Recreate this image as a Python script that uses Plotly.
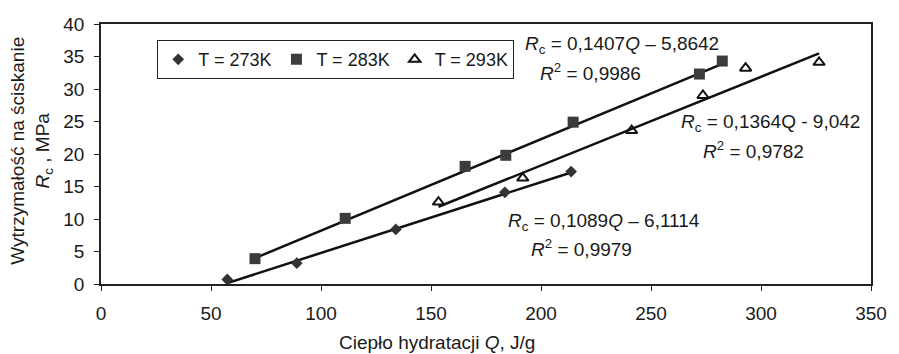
import plotly.graph_objects as go

# ---- data ----
q_273 = [57.4, 89.0, 134.0, 183.6, 213.7]
r_273 = [0.7, 3.2, 8.4, 14.1, 17.3]

q_283 = [70.0, 111.0, 165.5, 184.0, 214.6, 272.0, 282.4]
r_283 = [3.9, 10.1, 18.1, 19.8, 24.9, 32.3, 34.3]

q_293 = [153.4, 191.7, 241.2, 273.6, 293.0, 326.4]
r_293 = [12.6, 16.3, 23.6, 29.0, 33.2, 34.1]

series_names = ["T = 273K", "T = 283K", "T = 293K"]
# trendline coefficients (slope, intercept) as printed on the chart
slopes = [0.1089, 0.1407, 0.1364]
intercepts = [-6.1114, -5.8642, -9.042]

eq_texts = [
    "<i>R</i><sub>c</sub> = 0,1089<i>Q</i> – 6,1114",
    "<i>R</i><sub>c</sub> = 0,1407<i>Q</i> – 5,8642",
    "<i>R</i><sub>c</sub> = 0,1364Q - 9,042",
]
r2_texts = [
    "<i>R</i><sup>2</sup> = 0,9979",
    "<i>R</i><sup>2</sup> = 0,9986",
    "<i>R</i><sup>2</sup> = 0,9782",
]
eq_pos = [(228.7, 9.5), (236.8, 36.8), (304.5, 24.7)]
r2_pos = [(218.4, 5.5), (222.4, 32.6), (296.8, 20.6)]

x_ticks = [0, 50, 100, 150, 200, 250, 300, 350]
y_ticks = [0, 5, 10, 15, 20, 25, 30, 35, 40]

FONT = "Liberation Sans, Arial, sans-serif"
TXT = "#1a1a1a"
FS = 19

fig = go.Figure()

qs = [q_273, q_283, q_293]
rs = [r_273, r_283, r_293]
markers = [
    dict(symbol="diamond", size=9, color="#333333"),
    dict(symbol="square", size=11, color="#3c3c3c"),
    dict(symbol="triangle-up-open", size=10, color="#111111", line=dict(width=2, color="#111111")),
]

# trendlines
for q, a, b in zip(qs, slopes, intercepts):
    x0, x1 = min(q), max(q)
    fig.add_trace(go.Scatter(
        x=[x0, x1], y=[a * x0 + b, a * x1 + b], mode="lines",
        line=dict(color="#111111", width=2.5), showlegend=False, hoverinfo="skip"))

for q, r, name, m in zip(qs, rs, series_names, markers):
    fig.add_trace(go.Scatter(x=q, y=r, mode="markers", name=name, marker=m))

annotations = []
for t, (x, y) in zip(eq_texts, eq_pos):
    annotations.append(dict(x=x, y=y, xref="x", yref="y", text=t, showarrow=False,
                            font=dict(family=FONT, size=FS, color=TXT)))
for t, (x, y) in zip(r2_texts, r2_pos):
    annotations.append(dict(x=x, y=y, xref="x", yref="y", text=t, showarrow=False,
                            font=dict(family=FONT, size=FS, color=TXT)))

# axis titles
annotations.append(dict(x=0.436, y=-0.225, xref="paper", yref="paper",
                        text="Ciepło hydratacji <i>Q</i>, J/g", showarrow=False,
                        xanchor="center", yanchor="middle",
                        font=dict(family=FONT, size=FS, color=TXT)))
annotations.append(dict(x=-0.0905, y=0.514, xref="paper", yref="paper",
                        text="Wytrzymałość na ściskanie<br><i>R</i><sub>c</sub> , MPa",
                        showarrow=False, textangle=-90, xanchor="center", yanchor="middle",
                        font=dict(family=FONT, size=FS, color=TXT)))

fig.update_layout(
    width=899, height=354,
    margin=dict(l=101, r=21, t=24, b=70),
    paper_bgcolor="white", plot_bgcolor="white",
    font=dict(family=FONT, size=FS, color=TXT),
    showlegend=True,
    legend=dict(orientation="h", x=0.073, y=0.938, xanchor="left", yanchor="top",
                bordercolor="#222222", borderwidth=1, bgcolor="white",
                font=dict(family=FONT, size=18, color=TXT),
                itemwidth=30, tracegroupgap=0),
    annotations=annotations,
)
fig.update_xaxes(range=[0, 350], tickvals=x_ticks, showgrid=False, zeroline=False,
                 showline=True, linecolor="#222222", linewidth=1.5, mirror=True,
                 ticks="outside", ticklen=5, tickcolor="#222222", ticklabelstandoff=6)
fig.update_yaxes(range=[0, 40], tickvals=y_ticks, showgrid=False, zeroline=False,
                 showline=True, linecolor="#222222", linewidth=1.5, mirror=True,
                 ticks="outside", ticklen=5, tickcolor="#222222", ticklabelstandoff=6)

fig.write_html("out.html")
